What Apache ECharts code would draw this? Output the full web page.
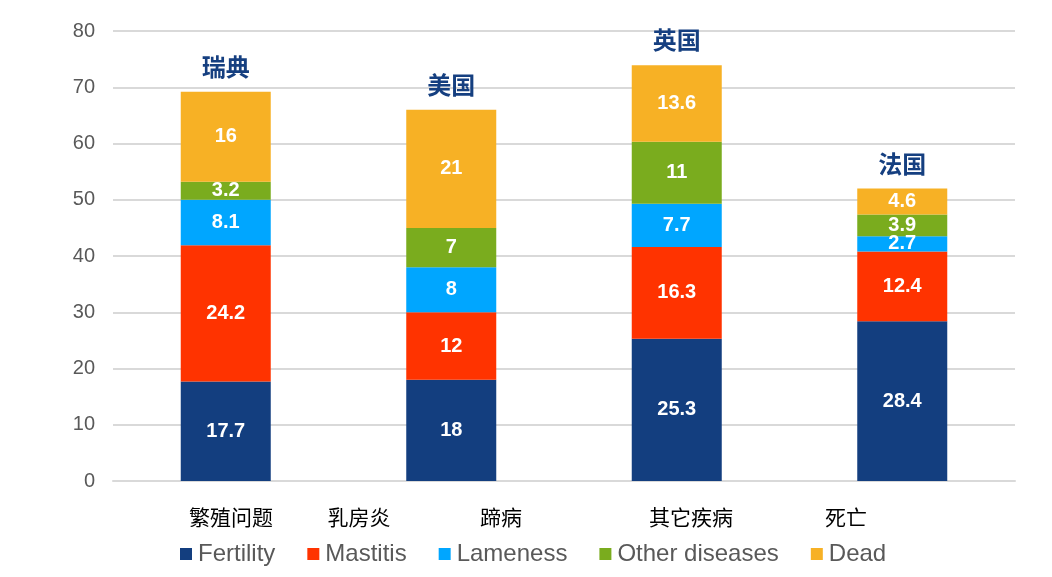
<!DOCTYPE html>
<html>
<head>
<meta charset="utf-8">
<script src="https://cdn.jsdelivr.net/npm/echarts@6/dist/echarts.min.js"></script>
<style>
  html, body { margin: 0; padding: 0; background: #fff; }
  #chart { width: 1052px; height: 577px; }
</style>
</head>
<body>
<div id="chart"></div>
<script>
// 国家（每根柱子）
const countries = ['瑞典', '美国', '英国', '法国'];
// 各淘汰原因
const fertility = [17.7, 18, 25.3, 28.4];
const mastitis = [24.2, 12, 16.3, 12.4];
const lameness = [8.1, 8, 7.7, 2.7];
const otherDiseases = [3.2, 7, 11, 3.9];
const dead = [16, 21, 13.6, 4.6];
const seriesNames = ['Fertility', 'Mastitis', 'Lameness', 'Other diseases', 'Dead'];
// 轴下方的中文说明
const bottomLabels = ['繁殖问题', '乳房炎', '蹄病', '其它疾病', '死亡'];
const bottomLabelX = [231, 359, 501, 691, 846];

const colors = ['#133E7F', '#FF3300', '#00A6FF', '#7AAC1E', '#F7B125'];
const seriesData = [fertility, mastitis, lameness, otherDiseases, dead];

const chart = echarts.init(document.getElementById('chart'));

const series = seriesData.map((d, i) => ({
  name: seriesNames[i],
  type: 'bar',
  stack: 'total',
  barWidth: 90,
  data: d,
  itemStyle: { color: colors[i] },
  label: {
    show: true,
    position: 'inside',
    color: '#fff',
    fontSize: 20,
    fontWeight: 'bold',
    fontFamily: 'Liberation Sans, Arial, sans-serif'
  }
}));

// 柱顶国家名
series.push({
  name: 'country',
  type: 'bar',
  stack: 'total',
  barWidth: 90,
  data: countries.map(() => 0),
  itemStyle: { color: 'transparent' },
  label: {
    show: true,
    position: 'top',
    distance: 13,
    formatter: '{b}',
    color: '#153F80',
    fontSize: 24,
    fontWeight: 'bold',
    fontFamily: 'Noto Sans CJK SC'
  }
});

const options = {
  animation: false,
  grid: { left: 113, right: 37, top: 31, bottom: 96 },
  legend: {
    data: seriesNames,
    left: 175,
    bottom: 6,
    itemWidth: 12,
    itemHeight: 12,
    itemGap: 32,
    icon: 'rect',
    textStyle: {
      color: '#595959',
      fontSize: 24,
      padding: [0, 0, 0, 1],
      fontFamily: 'Liberation Sans, Arial, sans-serif'
    }
  },
  xAxis: {
    type: 'category',
    data: countries,
    axisLabel: { show: false },
    axisTick: { show: false },
    axisLine: { lineStyle: { color: '#d9d9d9', width: 2 } }
  },
  yAxis: {
    type: 'value',
    min: 0,
    max: 80,
    interval: 10,
    axisLabel: {
      margin: 18,
      color: '#595959',
      fontSize: 20,
      fontFamily: 'Liberation Sans, Arial, sans-serif'
    },
    axisLine: { show: false },
    axisTick: { show: false },
    splitLine: { lineStyle: { color: '#d9d9d9', width: 2 } }
  },
  graphic: bottomLabels.map((t, i) => ({
    type: 'text',
    x: bottomLabelX[i],
    y: 517,
    style: {
      text: t,
      align: 'center',
      verticalAlign: 'middle',
      fill: '#000',
      fontSize: 21,
      fontFamily: 'Noto Sans CJK SC'
    }
  })),
  series: series
};

chart.setOption(options);
</script>
</body>
</html>
